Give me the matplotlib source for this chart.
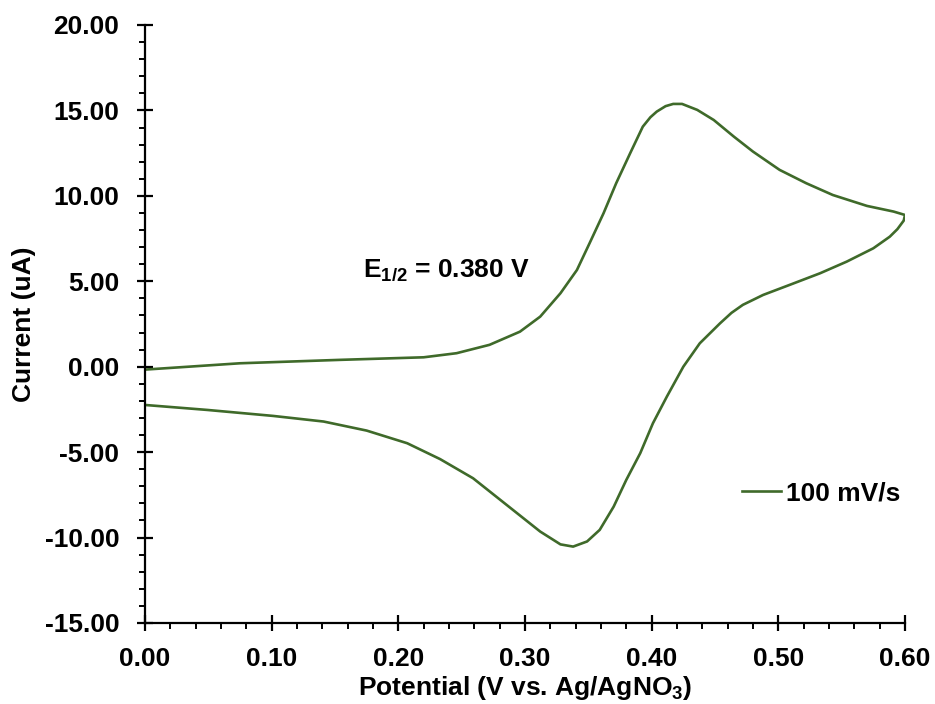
import numpy as np
import matplotlib.pyplot as plt
from matplotlib.ticker import MultipleLocator, FormatStrFormatter

plt.rcParams['font.family'] = ['Liberation Sans', 'DejaVu Sans']
plt.rcParams['font.weight'] = 'bold'
plt.rcParams['mathtext.default'] = 'regular'

# forward scan (0 -> 0.6 V)
fwd_potential = [0.0, 0.075, 0.154, 0.220, 0.246, 0.272, 0.296, 0.312, 0.328, 0.341,
                 0.351, 0.362, 0.372, 0.383, 0.393, 0.399, 0.404, 0.411, 0.417, 0.424,
                 0.436, 0.449, 0.465, 0.480, 0.501, 0.522, 0.543, 0.570, 0.591, 0.600]
fwd_current = [-0.17, 0.20, 0.40, 0.55, 0.79, 1.28, 2.05, 2.93, 4.30, 5.66,
               7.23, 8.98, 10.74, 12.49, 14.05, 14.60, 14.93, 15.25, 15.38, 15.38,
               15.03, 14.44, 13.46, 12.59, 11.52, 10.74, 10.05, 9.41, 9.08, 8.88]

# reverse scan (0.6 -> 0 V)
rev_potential = [0.599, 0.594, 0.588, 0.575, 0.554, 0.533, 0.509, 0.488, 0.472, 0.463,
                 0.454, 0.438, 0.425, 0.412, 0.401, 0.391, 0.380, 0.370, 0.359, 0.349,
                 0.338, 0.328, 0.312, 0.2855, 0.259, 0.233, 0.207, 0.175, 0.141,
                 0.101, 0.049, 0.0]
rev_current = [8.55, 8.05, 7.61, 6.93, 6.15, 5.47, 4.79, 4.20, 3.62, 3.15,
               2.54, 1.37, 0.0, -1.75, -3.31, -5.06, -6.62, -8.19, -9.55, -10.23,
               -10.53, -10.40, -9.65, -8.09, -6.53, -5.41, -4.48, -3.74, -3.21,
               -2.88, -2.53, -2.24]

potential = np.array(fwd_potential + rev_potential)
current = np.array(fwd_current + rev_current)

fig = plt.figure(figsize=(9.35, 7.04), dpi=100)
ax = fig.add_axes([0.1551, 0.1151, 0.8128, 0.8494])

ax.plot(potential, current, color='#3f6a2a', lw=1.9, label='100 mV/s',
        solid_joinstyle='round')

ax.set_xlim(0, 0.6)
ax.set_ylim(-15, 20)
ax.xaxis.set_major_locator(MultipleLocator(0.1))
ax.xaxis.set_minor_locator(MultipleLocator(0.02))
ax.yaxis.set_major_locator(MultipleLocator(5))
ax.yaxis.set_minor_locator(MultipleLocator(1))
ax.xaxis.set_major_formatter(FormatStrFormatter('%.2f'))
ax.yaxis.set_major_formatter(FormatStrFormatter('%.2f'))

for s in ['top', 'right']:
    ax.spines[s].set_visible(False)
for s in ['left', 'bottom']:
    ax.spines[s].set_linewidth(1.6)

ax.tick_params(which='major', direction='inout', length=11, width=1.6, labelsize=19)
ax.tick_params(axis='y', which='major', pad=13)
ax.tick_params(axis='x', which='major', pad=12)
ax.tick_params(which='minor', direction='out', length=4.5, width=1.4)

ax.set_xlabel('Potential (V vs. Ag/AgNO$_3$)', fontsize=19, fontweight='bold', labelpad=2)
ax.set_ylabel('Current (uA)', fontsize=19, fontweight='bold', labelpad=6)

ax.text(0.238, 5.66, 'E$_{1/2}$ = 0.380 V', fontsize=19, fontweight='bold',
        ha='center', va='center')

ax.legend(loc='center left', bbox_to_anchor=(0.754, 0.217), frameon=False,
          fontsize=19, handlelength=1.48, handletextpad=0.19)

fig.savefig('out.png', dpi=100)
